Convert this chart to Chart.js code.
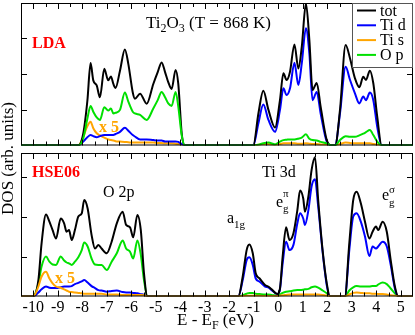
<!DOCTYPE html>
<html>
<head>
<meta charset="utf-8">
<script src="https://cdn.jsdelivr.net/npm/chart.js@4.4.1/dist/chart.umd.min.js"></script>
<style>
  html, body { margin: 0; padding: 0; background: #fff; }
  #wrap { position: relative; width: 415px; height: 335px; }
  #wrap canvas { position: absolute; left: 0; top: 0; }
</style>
</head>
<body>
<div id="wrap">
  <canvas id="lda" width="415" height="335"></canvas>
  <canvas id="hse" width="415" height="335"></canvas>
</div>
<script>
// Ti2O3 DOS, LDA (top) and HSE06 (bottom); Ti s is already multiplied by 5
const ldaE = [-10.5,
  -8.16, -7.96, -7.79, -7.66, -7.55, -7.41, -7.28, -7.10, -6.94, -6.83, -6.73, -6.64, -6.46, -6.26, -6.12,
  -5.94, -5.85, -5.64, -5.37, -5.10, -4.92, -4.76, -4.62, -4.49, -4.35, -4.19, -4.08, -3.94, -3.81,
  -1.02, -0.81, -0.61, -0.40, -0.13, 0.07, 0.21, 0.34, 0.48, 0.66, 0.82, 0.96, 1.13, 1.27, 1.40, 1.57,
  1.73, 1.98, 2.18, 2.32, 2.52, 2.75, 2.93, 3.13, 3.31, 3.47, 3.58, 3.74, 3.88, 4.04, 4.22,
  5.5];
const ldaTot = [0,
  0, 0.33, 1.25, 2.29, 1.81, 1.67, 1.34, 2.13, 1.81, 1.92, 1.71, 1.60, 2.08, 2.67, 2.27,
  1.48, 1.30, 1.44, 1.16, 1.71, 2.04, 2.31, 2.04, 1.76, 1.57, 2.10, 1.71, 0.33, 0,
  0, 0.89, 1.52, 0.99, 0.50, 1.26, 2.01, 1.82, 2.05, 2.81, 2.14, 2.74, 3.95, 2.93, 1.54, 1.74,
  1.08, 0.15, 0, 0, 0.99, 2.79, 2.42, 1.87, 1.62, 1.91, 1.82, 2.08, 1.73, 0.80, 0,
  0];
const ldaTid = [0,
  0, 0.11, 0.23, 0.29, 0.26, 0.23, 0.26, 0.29, 0.29, 0.29, 0.29, 0.32, 0.38, 0.49, 0.41,
  0.29, 0.25, 0.17, 0.17, 0.15, 0.14, 0.14, 0.11, 0.11, 0.11, 0.11, 0.10, 0.04, 0,
  0, 0.62, 1.14, 0.71, 0.38, 0.99, 1.59, 1.40, 1.59, 2.30, 1.68, 2.28, 3.26, 2.56, 1.26, 1.49,
  0.89, 0.11, 0, 0, 0.89, 2.19, 1.82, 1.45, 1.17, 1.36, 1.26, 1.47, 1.26, 0.52, 0,
  0];
const ldaTis = [0,
  0, 0.24, 0.54, 0.66, 0.48, 0.34, 0.28, 0.22, 0.17, 0.15, 0.14, 0.12, 0.11, 0.10, 0.09,
  0.08, 0.08, 0.08, 0.08, 0.08, 0.07, 0.07, 0.06, 0.06, 0.06, 0.05, 0.04, 0.02, 0,
  0, 0.02, 0.04, 0.04, 0.02, 0.04, 0.06, 0.06, 0.06, 0.06, 0.05, 0.05, 0.06, 0.05, 0.04, 0.04,
  0.03, 0.02, 0, 0, 0.04, 0.08, 0.07, 0.06, 0.06, 0.06, 0.06, 0.06, 0.04, 0.02, 0,
  0];
const ldaOp = [0,
  0, 0.20, 0.75, 1.10, 0.94, 0.78, 0.71, 1.06, 0.97, 1.03, 0.89, 0.91, 0.99, 1.47, 1.22,
  0.94, 0.89, 0.85, 0.71, 1.03, 1.26, 1.49, 1.34, 1.17, 1.10, 1.49, 1.08, 0.28, 0,
  0, 0.02, 0.06, 0.08, 0.03, 0.11, 0.15, 0.16, 0.17, 0.17, 0.19, 0.22, 0.31, 0.19, 0.15, 0.14,
  0.10, 0.06, 0, 0, 0.15, 0.26, 0.24, 0.24, 0.28, 0.33, 0.37, 0.43, 0.29, 0.11, 0,
  0];

const hseE = [-10.5,
  -10.0, -9.79, -9.66, -9.48, -9.34, -9.21, -9.07, -8.88, -8.74, -8.64, -8.54, -8.43, -8.30, -8.16, -8.02, -7.92,
  -7.78, -7.62, -7.48, -7.34, -7.21, -7.00, -6.80, -6.59, -6.35, -6.21, -6.05, -5.92, -5.75, -5.61, -5.48, -5.34,
  -1.63, -1.45, -1.29, -1.18, -1.04, -0.92, -0.76, -0.54, -0.41, -0.27, -0.04, 0.07, 0.18, 0.32, 0.46, 0.62,
  0.78, 0.89, 1.02, 1.09, 1.23, 1.36, 1.50, 1.63, 1.81, 1.98, 2.11, 2.72, 2.90, 3.06, 3.20, 3.37, 3.54,
  3.72, 3.85, 3.99, 4.08, 4.26, 4.43, 4.59, 4.76, 4.90,
  5.5];
const hseTot = [0,
  0, 0.41, 1.33, 2.05, 1.87, 1.66, 1.45, 1.95, 1.83, 1.62, 1.66, 1.41, 1.66, 2.00, 2.08, 2.41,
  2.20, 1.54, 1.20, 1.29, 1.20, 1.08, 1.37, 1.83, 2.12, 1.79, 1.73, 1.48, 2.04, 1.66, 0.58, 0,
  0, 0.50, 1.16, 1.30, 1.08, 0.58, 0.45, 0.29, 0.25, 0.18, 0.06, 0.20, 1.00, 1.73, 1.41, 1.58,
  2.16, 2.65, 2.45, 2.12, 2.50, 3.16, 3.48, 2.41, 1.16, 0.33, 0, 0, 1.33, 2.41, 2.62, 2.33, 1.87,
  1.45, 1.62, 1.75, 1.66, 1.87, 1.62, 0.91, 0.25, 0,
  0];
const hseTid = [0,
  0, 0.10, 0.18, 0.25, 0.22, 0.21, 0.21, 0.23, 0.25, 0.25, 0.25, 0.26, 0.31, 0.34, 0.38, 0.41,
  0.35, 0.26, 0.21, 0.16, 0.15, 0.12, 0.14, 0.15, 0.11, 0.10, 0.10, 0.09, 0.08, 0.06, 0.04, 0,
  0, 0.41, 0.91, 0.98, 0.79, 0.45, 0.37, 0.25, 0.23, 0.16, 0.06, 0.18, 0.83, 1.37, 1.16, 1.29,
  1.83, 2.08, 1.95, 1.79, 2.16, 2.75, 2.93, 2.25, 1.12, 0.28, 0, 0, 1.16, 2.00, 2.08, 1.87, 1.50,
  1.01, 1.25, 1.20, 1.25, 1.37, 1.25, 0.79, 0.20, 0,
  0];
const hseTis = [0,
  0, 0.25, 0.50, 0.62, 0.45, 0.33, 0.25, 0.22, 0.18, 0.15, 0.12, 0.11, 0.10, 0.09, 0.08, 0.07,
  0.07, 0.07, 0.07, 0.07, 0.07, 0.05, 0.05, 0.05, 0.04, 0.04, 0.04, 0.04, 0.04, 0.04, 0.03, 0,
  0, 0.01, 0.02, 0.02, 0.02, 0.02, 0.02, 0.01, 0.01, 0.01, 0.01, 0.02, 0.03, 0.04, 0.05, 0.05,
  0.05, 0.05, 0.05, 0.05, 0.05, 0.05, 0.05, 0.05, 0.04, 0.02, 0, 0, 0.05, 0.09, 0.10, 0.09, 0.08,
  0.08, 0.07, 0.07, 0.06, 0.06, 0.05, 0.03, 0.02, 0,
  0];
const hseOp = [0,
  0, 0.33, 0.75, 1.00, 0.87, 0.80, 0.79, 1.00, 0.90, 0.85, 0.83, 0.79, 0.87, 0.98, 1.16, 1.35,
  1.25, 0.95, 0.80, 0.79, 0.79, 0.66, 0.87, 1.08, 1.40, 1.20, 1.12, 0.95, 1.40, 1.04, 0.41, 0,
  0, 0.03, 0.07, 0.09, 0.09, 0.07, 0.06, 0.05, 0.05, 0.04, 0.02, 0.05, 0.09, 0.12, 0.13, 0.15,
  0.16, 0.16, 0.17, 0.18, 0.19, 0.23, 0.25, 0.22, 0.15, 0.08, 0, 0, 0.15, 0.23, 0.26, 0.25, 0.25,
  0.25, 0.26, 0.26, 0.30, 0.35, 0.31, 0.20, 0.08, 0,
  0];

const xTicks = [-10, -9, -8, -7, -6, -5, -4, -3, -2, -1, 0, 1, 2, 3, 4, 5];
const yTicks = [1, 2, 3];
const seriesNames = ['tot', 'Ti d', 'Ti s', 'O p'];
const seriesColors = ['#000000', '#0000ff', '#ffa500', '#00e000'];

const FONT = '"Liberation Serif", "Times New Roman", serif';

function pts(E, vals) {
  return E.map((e, i) => ({ x: e, y: vals[i] }));
}

// order: lower number is drawn on top
function datasets(E, series, orders) {
  return series.map((vals, i) => ({
    label: seriesNames[i],
    data: pts(E, vals),
    borderColor: seriesColors[i],
    borderWidth: 2,
    pointRadius: 0,
    fill: false,
    cubicInterpolationMode: 'monotone',
    order: orders[i]
  }));
}

function rich(ctx, x, y, parts, color) {
  ctx.fillStyle = color || '#000';
  ctx.textAlign = 'left';
  ctx.textBaseline = 'alphabetic';
  parts.forEach(p => {
    ctx.font = (p[3] || '') + ' ' + p[1] + 'px ' + FONT;
    ctx.fillText(p[0], x, y + p[2]);
    x += ctx.measureText(p[0]).width;
  });
}

function drawFrame(chart) {
  const ctx = chart.ctx, a = chart.chartArea;
  const xs = chart.scales.x, ys = chart.scales.y;
  ctx.save();
  ctx.strokeStyle = '#000';
  ctx.lineWidth = 1;
  ctx.strokeRect(a.left + 0.5, a.top + 0.5, a.right - a.left - 1, a.bottom - a.top - 1);
  ctx.beginPath();
  xTicks.forEach(t => {
    [t, t + 0.5].forEach((v, k) => {
      if (v >= 5.5) return;
      const px = Math.round(xs.getPixelForValue(v)) + 0.5;
      const len = k === 0 ? 6 : 4;
      ctx.moveTo(px, a.bottom); ctx.lineTo(px, a.bottom - len);
      ctx.moveTo(px, a.top); ctx.lineTo(px, a.top + len);
    });
  });
  yTicks.forEach(t => {
    const py = Math.round(ys.getPixelForValue(t)) + 0.5;
    ctx.moveTo(a.left, py); ctx.lineTo(a.left + 6, py);
    ctx.moveTo(a.right, py); ctx.lineTo(a.right - 6, py);
  });
  ctx.stroke();
  ctx.restore();
}

const ldaExtras = {
  id: 'ldaExtras',
  afterDatasetsDraw(chart) {
    const ctx = chart.ctx;
    drawFrame(chart);
    ctx.save();
    rich(ctx, 32, 48, [['LDA', 16, 0, 'bold']], '#ff0000');
    rich(ctx, 146, 28, [['Ti', 17, 0], ['2', 12, 4], ['O', 17, 0], ['3', 12, 4], [' (T = 868 K)', 17, 0]]);
    rich(ctx, 99, 131.5, [['x 5', 16, 0, 'bold']], '#ffa500');
    // legend box
    ctx.fillStyle = '#fff';
    ctx.fillRect(352.5, 3.5, 60, 64);
    ctx.strokeStyle = '#555';
    ctx.lineWidth = 1;
    ctx.strokeRect(352.5, 3.5, 60, 64);
    seriesNames.forEach((name, i) => {
      const y = 10.5 + i * 14.8;
      ctx.strokeStyle = seriesColors[i];
      ctx.lineWidth = 2;
      ctx.beginPath();
      ctx.moveTo(357, y); ctx.lineTo(376, y);
      ctx.stroke();
      rich(ctx, 380, y + 5, [[name, 16, 0]]);
    });
    ctx.restore();
  }
};

const hseExtras = {
  id: 'hseExtras',
  afterDatasetsDraw(chart) {
    const ctx = chart.ctx, a = chart.chartArea;
    const xs = chart.scales.x;
    drawFrame(chart);
    ctx.save();
    rich(ctx, 32, 176.5, [['HSE06', 16, 0, 'bold']], '#ff0000');
    rich(ctx, 55, 282.5, [['x 5', 16, 0, 'bold']], '#ffa500');
    rich(ctx, 103, 197, [['O 2p', 16, 0]]);
    rich(ctx, 262, 177, [['Ti 3d', 16, 0]]);
    rich(ctx, 227, 222.5, [['a', 16, 0], ['1g', 11, 5]]);
    rich(ctx, 276, 206.5, [['e', 16, 0]]);
    rich(ctx, 283, 197, [['\u03c0', 11, 0]]);
    rich(ctx, 283, 212, [['g', 11, 0]]);
    rich(ctx, 382, 200, [['e', 16, 0]]);
    rich(ctx, 389, 192.5, [['\u03c3', 11, 0]]);
    rich(ctx, 389, 206, [['g', 11, 0]]);
    // x tick labels
    ctx.fillStyle = '#000';
    ctx.font = '16px ' + FONT;
    ctx.textAlign = 'center';
    ctx.textBaseline = 'alphabetic';
    xTicks.forEach(t => {
      ctx.fillText(String(t), xs.getPixelForValue(t), a.bottom + 15.5);
    });
    // axis titles
    rich(ctx, 177, 325, [['E - E', 17, 0], ['F', 12, 4], [' (eV)', 17, 0]]);
    ctx.translate(13, 158.5);
    ctx.rotate(-Math.PI / 2);
    ctx.font = '17px ' + FONT;
    ctx.textAlign = 'center';
    ctx.fillText('DOS (arb. units)', 0, 0);
    ctx.restore();
  }
};

function baseOptions(pad, yMax) {
  return {
    responsive: false,
    animation: false,
    events: [],
    layout: { padding: pad },
    plugins: { legend: { display: false }, tooltip: { enabled: false } },
    scales: {
      x: { type: 'linear', min: -10.5, max: 5.5, display: false },
      y: { type: 'linear', min: 0, max: yMax, display: false }
    }
  };
}

new Chart(document.getElementById('lda'), {
  type: 'line',
  data: { datasets: datasets(ldaE, [ldaTot, ldaTid, ldaTis, ldaOp], [1, 2, 3, 0]) },
  options: baseOptions({ left: 21, right: 2, top: 3, bottom: 189.5 }, 3.96),
  plugins: [ldaExtras]
});

new Chart(document.getElementById('hse'), {
  type: 'line',
  data: { datasets: datasets(hseE, [hseTot, hseTid, hseTis, hseOp], [1, 2, 0, 3]) },
  options: baseOptions({ left: 21, right: 2, top: 153, bottom: 38.5 }, 3.5875),
  plugins: [hseExtras]
});
</script>
</body>
</html>
